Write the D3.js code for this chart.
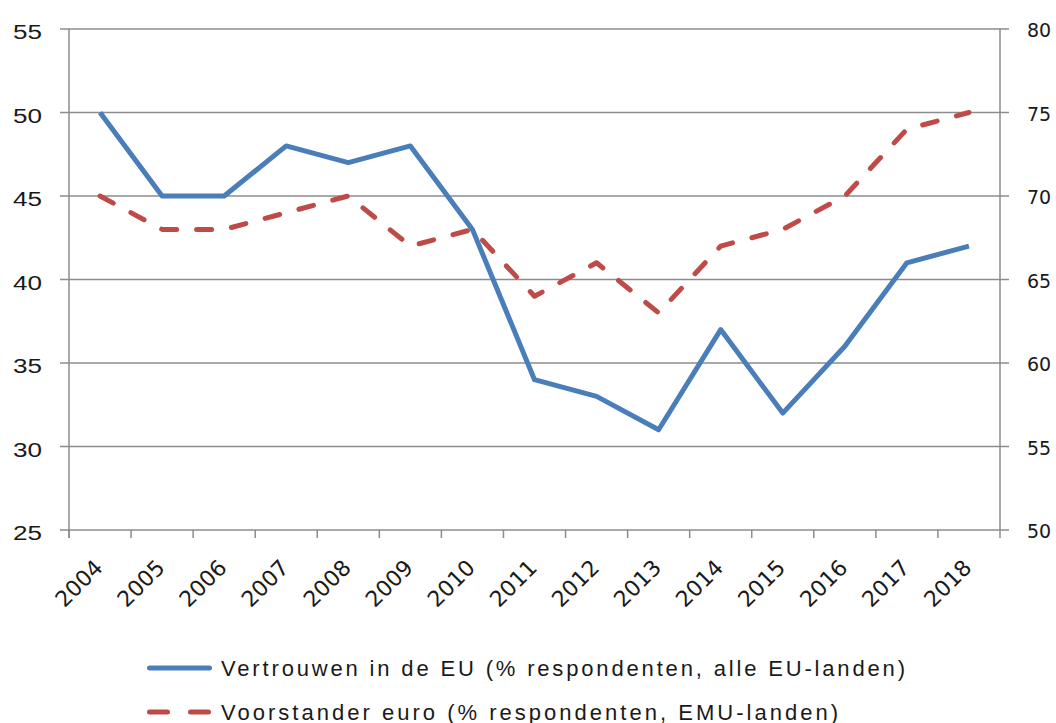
<!DOCTYPE html>
<html>
<head>
<meta charset="utf-8">
<script src="https://cdn.jsdelivr.net/npm/d3@7"></script>
<style>
	body { margin: 0; background: #fff; }
	svg text { font-family: "Liberation Sans", Arial, sans-serif; fill: #1a1a1a; }
</style>
</head>
<body>
<div id="content"></div>
<script>
var years = ["2004","2005","2006","2007","2008","2009","2010","2011","2012","2013","2014","2015","2016","2017","2018"];
var vertrouwen = [50, 45, 45, 48, 47, 48, 43, 34, 33, 31, 37, 32, 36, 41, 42];
var voorstander = [70, 68, 68, 69, 70, 67, 68, 64, 66, 63, 67, 68, 70, 74, 75];
var leftTicks = [25, 30, 35, 40, 45, 50, 55];
var rightTicks = [50, 55, 60, 65, 70, 75, 80];
var legendNames = ["Vertrouwen in de EU (% respondenten, alle EU-landen)", "Voorstander euro (% respondenten, EMU-landen)"];

var W = 1056, H = 723;
var pLeft = 69, pRight = 1000, pTop = 29, pBottom = 530;
var blue = "#4a7ebb", red = "#be4b48", grid = "#8c8c8c";

var svg = d3.select("#content").append("svg")
	.attr("width", W)
	.attr("height", H);

var x = d3.scaleBand().domain(years).range([pLeft, pRight]);
var yL = d3.scaleLinear().domain([25, 55]).range([pBottom, pTop]);
var yR = d3.scaleLinear().domain([50, 80]).range([pBottom, pTop]);

// gridlines
svg.selectAll(".grid").data(leftTicks).enter().append("line")
	.attr("x1", pLeft - 9).attr("x2", pRight)
	.attr("y1", function(d){ return yL(d); })
	.attr("y2", function(d){ return yL(d); })
	.attr("stroke", grid).attr("stroke-width", 1.5);

// right ticks
svg.selectAll(".rtick").data(rightTicks).enter().append("line")
	.attr("x1", pRight).attr("x2", pRight + 9)
	.attr("y1", function(d){ return yR(d); })
	.attr("y2", function(d){ return yR(d); })
	.attr("stroke", grid).attr("stroke-width", 1.5);

// axis lines
svg.append("line").attr("x1", pLeft).attr("x2", pLeft).attr("y1", pTop).attr("y2", pBottom + 8)
	.attr("stroke", grid).attr("stroke-width", 1.5);
svg.append("line").attr("x1", pRight).attr("x2", pRight).attr("y1", pTop).attr("y2", pBottom + 8)
	.attr("stroke", grid).attr("stroke-width", 1.5);

// x ticks at category boundaries
var bounds = years.map(function(d){ return x(d); });
svg.selectAll(".xtick").data(bounds).enter().append("line")
	.attr("x1", function(d){ return d; }).attr("x2", function(d){ return d; })
	.attr("y1", pBottom).attr("y2", pBottom + 8)
	.attr("stroke", grid).attr("stroke-width", 1.5);

// left labels
svg.selectAll(".llab").data(leftTicks).enter().append("text")
	.attr("x", 42)
	.attr("y", function(d){ return yL(d) + 10; })
	.attr("text-anchor", "end")
	.attr("font-size", 20)
	.attr("textLength", 29)
	.attr("lengthAdjust", "spacingAndGlyphs")
	.text(function(d){ return d; });

// right labels
svg.selectAll(".rlab").data(rightTicks).enter().append("text")
	.attr("x", 1027)
	.attr("y", function(d){ return yR(d) + 8; })
	.attr("font-size", 19)
	.style("font-family", "'DejaVu Sans', sans-serif")
	.text(function(d){ return d; });

// x labels
svg.selectAll(".xlab").data(years).enter().append("text")
	.attr("transform", function(d){
		var cx = x(d) + x.bandwidth()/2 + 4;
		return "translate(" + cx + "," + (pBottom + 39) + ") rotate(-45)";
	})
	.attr("text-anchor", "end")
	.attr("font-size", 22)
	.style("font-family", "'DejaVu Sans', sans-serif")
	.text(function(d){ return d; });

var cx = function(d, i){ return x(years[i]) + x.bandwidth()/2; };

// series
svg.append("path")
	.datum(voorstander)
	.attr("d", d3.line().x(cx).y(function(d){ return yR(d); }))
	.attr("fill", "none")
	.attr("stroke", red)
	.attr("stroke-width", 5)
	.attr("stroke-linecap", "round")
	.attr("stroke-linejoin", "round")
	.attr("stroke-dasharray", "15,20");

svg.append("path")
	.datum(vertrouwen)
	.attr("d", d3.line().x(cx).y(function(d){ return yL(d); }))
	.attr("fill", "none")
	.attr("stroke", blue)
	.attr("stroke-width", 5)
	.attr("stroke-linejoin", "round");

// legend
var leg = [
	{name: legendNames[0], color: blue, dash: null, y: 668, len: 684},
	{name: legendNames[1], color: red, dash: "18,23", y: 712, len: 617}
];
leg.forEach(function(l){
	svg.append("line")
		.attr("x1", 149.5).attr("x2", 209.5)
		.attr("y1", l.y).attr("y2", l.y)
		.attr("stroke", l.color)
		.attr("stroke-width", 5)
		.attr("stroke-linecap", "round")
		.attr("stroke-dasharray", l.dash);
	svg.append("text")
		.attr("x", 221)
		.attr("y", l.y + 8)
		.attr("font-size", 22)
		.attr("textLength", l.len)
		.attr("lengthAdjust", "spacing")
		.text(l.name);
});
</script>
</body>
</html>
